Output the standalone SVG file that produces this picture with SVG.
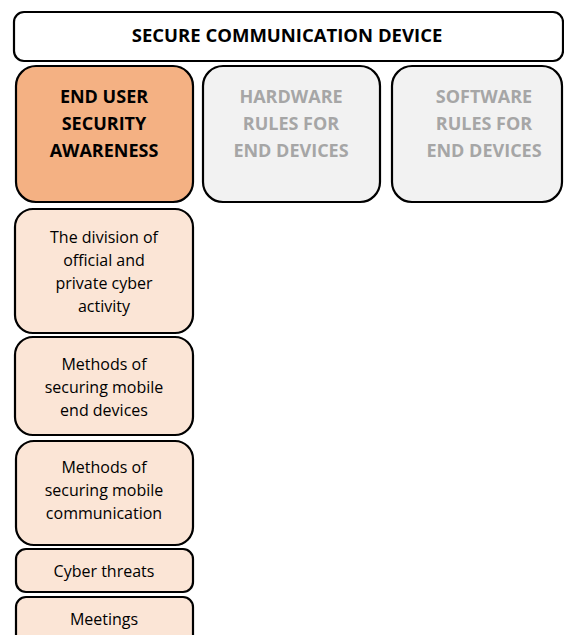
<svg xmlns="http://www.w3.org/2000/svg" width="564" height="635" viewBox="0 0 564 635">
  <style>
    .box { stroke: #000; stroke-width: 2.2; }
    .root { fill: #fff; }
    .main { fill: #F4B183; }
    .grey { fill: #F2F2F2; }
    .sub { fill: #FBE5D6; }
    .t { font-family: "Open Sans", "Liberation Sans", sans-serif; text-anchor: middle; }
    .title { font-weight: bold; font-size: 18.5px; fill: #000; }
    .hd { font-weight: bold; font-size: 18px; fill: #000; }
    .hdg { font-weight: bold; font-size: 18px; fill: #A6A6A6; }
    .sm { font-size: 16px; fill: #000; }
  </style>
  <rect width="564" height="635" fill="#fff"/>

  <g id="root-node">
    <rect class="box root" x="14" y="12" width="549" height="49" rx="10"/>
    <text class="t title" x="287" y="42">SECURE COMMUNICATION DEVICE</text>
  </g>

  <g id="end-user-security">
    <rect class="box main" x="16" y="66" width="177" height="136" rx="20"/>
    <text class="t hd" x="104" y="103">END USER</text>
    <text class="t hd" x="104" y="130">SECURITY</text>
    <text class="t hd" x="104" y="157">AWARENESS</text>
  </g>

  <g id="hardware-rules">
    <rect class="box grey" x="203" y="66" width="177" height="136" rx="20"/>
    <text class="t hdg" x="291" y="103">HARDWARE</text>
    <text class="t hdg" x="291" y="130">RULES FOR</text>
    <text class="t hdg" x="291" y="157">END DEVICES</text>
  </g>

  <g id="software-rules">
    <rect class="box grey" x="392" y="66" width="170" height="136" rx="20"/>
    <text class="t hdg" x="484" y="103">SOFTWARE</text>
    <text class="t hdg" x="484" y="130">RULES FOR</text>
    <text class="t hdg" x="484" y="157">END DEVICES</text>
  </g>

  <g id="division-activity">
    <rect class="box sub" x="15" y="209" width="178" height="124" rx="18"/>
    <text class="t sm" x="104" y="243">The division of</text>
    <text class="t sm" x="104" y="266">official and</text>
    <text class="t sm" x="104" y="289">private cyber</text>
    <text class="t sm" x="104" y="312">activity</text>
  </g>

  <g id="securing-devices">
    <rect class="box sub" x="15" y="337" width="178" height="98" rx="18"/>
    <text class="t sm" x="104" y="370">Methods of</text>
    <text class="t sm" x="104" y="393">securing mobile</text>
    <text class="t sm" x="104" y="416">end devices</text>
  </g>

  <g id="securing-communication">
    <rect class="box sub" x="16" y="441" width="177" height="104" rx="18"/>
    <text class="t sm" x="104" y="473">Methods of</text>
    <text class="t sm" x="104" y="496">securing mobile</text>
    <text class="t sm" x="104" y="519">communication</text>
  </g>

  <g id="cyber-threats">
    <rect class="box sub" x="16" y="549" width="177" height="43" rx="10"/>
    <text class="t sm" x="104" y="577">Cyber threats</text>
  </g>

  <g id="meetings">
    <rect class="box sub" x="16" y="597" width="177" height="60" rx="10"/>
    <text class="t sm" x="104" y="625">Meetings</text>
  </g>

  <g id="connectors"></g>
</svg>
